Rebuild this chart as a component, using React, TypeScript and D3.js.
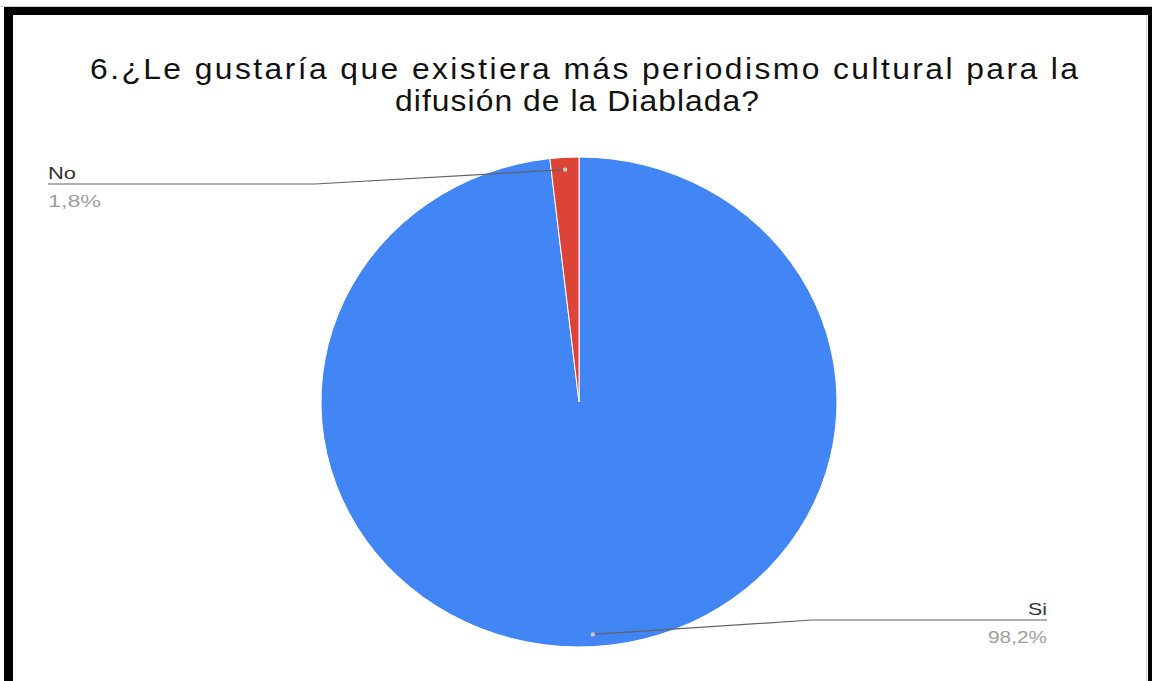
import React from "react";
import * as d3 from "d3";

const categories: string[] = ["Si", "No"];
const values: number[] = [98.2, 1.8];
const percentLabels: string[] = ["98,2%", "1,8%"];
const colors: string[] = ["#4285F4", "#DB4437"];
const titleLines: string[] = [
  "6.¿Le gustaría que existiera más periodismo cultural para la",
  "difusión de la Diablada?",
];

const W = 1152;
const H = 681;
const cx = 579;
const cy = 402;
const ry = 245;
const sx = 258 / 245;

// layout of the two title lines (centre x, baseline y, rendered width)
const titleLayout = [
  { x: 584, y: 79, w: 988 },
  { x: 577, y: 111, w: 364 },
];
const titleStretch = 1.06;

// label layout
const labelLayout: Record<
  string,
  { x: number; lineY: number; elbowX: number; anchor: "start" | "end"; nameW: number; pctW: number }
> = {
  No: { x: 48, lineY: 184, elbowX: 315, anchor: "start", nameW: 28, pctW: 53 },
  Si: { x: 1047, lineY: 620, elbowX: 812, anchor: "end", nameW: 19, pctW: 59 },
};

export default function App() {
  const pie = d3.pie<number>().sort(null).value((d) => d);
  const arcs = pie(values);
  const arc = d3.arc<d3.PieArcDatum<number>>().innerRadius(0).outerRadius(ry);
  const dotArc = d3.arc<d3.PieArcDatum<number>>().innerRadius(ry * 0.95).outerRadius(ry * 0.95);

  return (
    <svg
      width={W}
      height={H}
      style={{ position: "absolute", left: 0, top: 0, background: "#fff" }}
      fontFamily="'Liberation Sans', Arial, sans-serif"
    >
      <rect x={0} y={0} width={W} height={H} fill="#fff" />
      <g transform={`translate(${cx},${cy}) scale(${sx},1)`}>
        {arcs.map((a, i) => (
          <path
            key={categories[i]}
            d={arc(a) || ""}
            fill={colors[i]}
            stroke="#fff"
            strokeWidth={1}
            vectorEffect="non-scaling-stroke"
          />
        ))}
      </g>
      {arcs.map((a, i) => {
        const [dx, dy] = dotArc.centroid(a);
        const px = cx + dx * sx;
        const py = cy + dy;
        const lay = labelLayout[categories[i]];
        return (
          <g key={"lbl" + i}>
            <polyline
              points={`${px},${py} ${lay.elbowX},${lay.lineY} ${lay.x},${lay.lineY}`}
              fill="none"
              stroke="#636363"
              strokeWidth={1.2}
            />
            <circle cx={px} cy={py} r={2.2} fill="#c9c9c9" />
            <text
              x={lay.x}
              y={lay.lineY - 5}
              fontSize={17}
              fill="#333"
              textAnchor={lay.anchor}
              textLength={lay.nameW}
              lengthAdjust="spacingAndGlyphs"
            >
              {categories[i]}
            </text>
            <text
              x={lay.x}
              y={lay.lineY + 23}
              fontSize={17}
              fill="#9e9e9e"
              textAnchor={lay.anchor}
              textLength={lay.pctW}
              lengthAdjust="spacingAndGlyphs"
            >
              {percentLabels[i]}
            </text>
          </g>
        );
      })}
      {titleLines.map((t, i) => (
        <g key={i} transform={`translate(${titleLayout[i].x},${titleLayout[i].y}) scale(${titleStretch},1)`}>
          <text
            x={0}
            y={0}
            fontSize={30}
            fill="#111"
            textAnchor="middle"
            textLength={titleLayout[i].w / titleStretch}
            lengthAdjust="spacing"
          >
            {t}
          </text>
        </g>
      ))}
      <rect x={0} y={6} width={W} height={1} fill="#cfcfcf" />
      <rect x={4} y={7} width={W - 4} height={8} fill="#000" />
      <rect x={4} y={7} width={9} height={H - 7} fill="#000" />
      <rect x={1148} y={7} width={4} height={H - 7} fill="#000" />
      <rect x={1146} y={15} width={1} height={H - 15} fill="#d0d0d0" />
    </svg>
  );
}
